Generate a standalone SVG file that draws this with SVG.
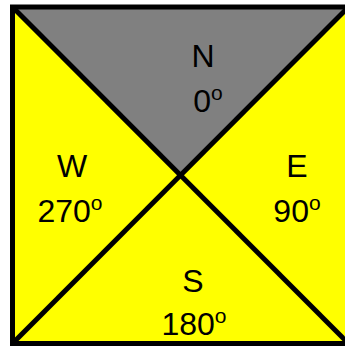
<svg xmlns="http://www.w3.org/2000/svg" width="345" height="346" viewBox="0 0 345 346">
<style>
.lbl{font-family:"Liberation Sans",Arial,sans-serif;font-size:32px;fill:#000;text-anchor:middle}
.sup{font-size:21px}
.ln{stroke:#000;stroke-width:5;fill:none}
</style>
<rect x="0" y="0" width="345" height="346" fill="#fff"/>
<g id="south"><polygon points="12.5,7 348.5,7 348.5,343.5 12.5,343.5" fill="#ffff00"/></g>
<g id="north"><polygon points="12.5,7 348.5,7 180.5,175.25" fill="#808080"/></g>
<g id="connectors">
<line class="ln" x1="12.5" y1="7" x2="348.5" y2="343.5"/>
<line class="ln" x1="348.5" y1="7" x2="12.5" y2="343.5"/>
<rect class="ln" x="12.5" y="7" width="336" height="336.5"/>
</g>
<g id="labels">
<text class="lbl" x="203" y="67">N</text>
<text class="lbl" x="208" y="112">0<tspan class="sup" dy="-12">o</tspan></text>
<text class="lbl" x="72" y="177">W</text>
<text class="lbl" x="70" y="222">270<tspan class="sup" dy="-12">o</tspan></text>
<text class="lbl" x="297" y="177">E</text>
<text class="lbl" x="297" y="222">90<tspan class="sup" dy="-12">o</tspan></text>
<text class="lbl" x="193" y="292">S</text>
<text class="lbl" x="194" y="335">180<tspan class="sup" dy="-12">o</tspan></text>
</g>
</svg>
